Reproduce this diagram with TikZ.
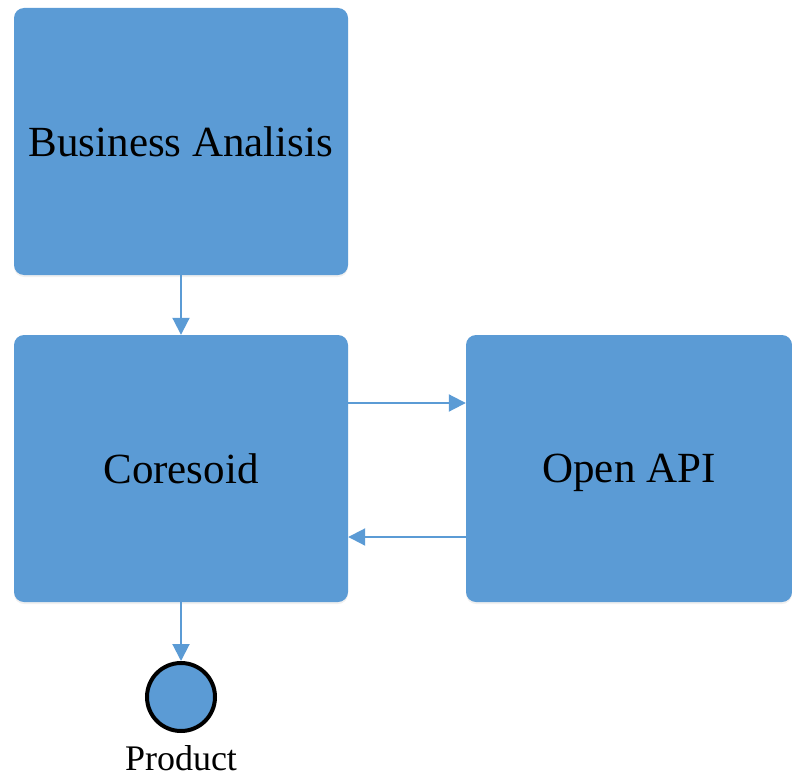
\documentclass[tikz,border=0pt]{standalone}
\usepackage{fontspec}
\setmainfont{Liberation Serif}
\usetikzlibrary{arrows.meta,positioning,shadows}
\definecolor{boxblue}{HTML}{5B9BD5}

\begin{document}
\begin{tikzpicture}[x=1pt,y=-1pt,>={Triangle[length=17pt,width=17pt]},
  block/.style={fill=boxblue,rounded corners=10pt,minimum width=334pt,minimum height=267pt,
    inner sep=0pt,text depth=0pt,font=\fontsize{43}{50}\selectfont,
    drop shadow={opacity=0.12,shadow xshift=0pt,shadow yshift=-2pt}},
  flow/.style={->,boxblue,line width=2pt}]
\useasboundingbox (0,0) rectangle (792,781);
\node[block] (ba) at (181,141.5) {Business Analisis};
\node[block] (core) at (181,468.5) {Coresoid};
\node[block,minimum width=326pt] (api) at (629,468.5) {Open API};
\node[circle,draw=black,fill=boxblue,line width=4pt,minimum size=68pt,inner sep=0pt] (prod) at (181,697) {};
\node[below=12pt of prod,inner sep=0pt,font=\fontsize{36}{42}\selectfont] (prodlbl) {Product};
\draw[flow] (ba) -- (core);
\draw[flow] ([yshift=65.5pt]core.east) -- ([yshift=65.5pt]api.west);
\draw[flow] ([yshift=-68.5pt]api.west) -- ([yshift=-68.5pt]core.east);
\draw[flow] (core) -- (prod);
\end{tikzpicture}
\end{document}
